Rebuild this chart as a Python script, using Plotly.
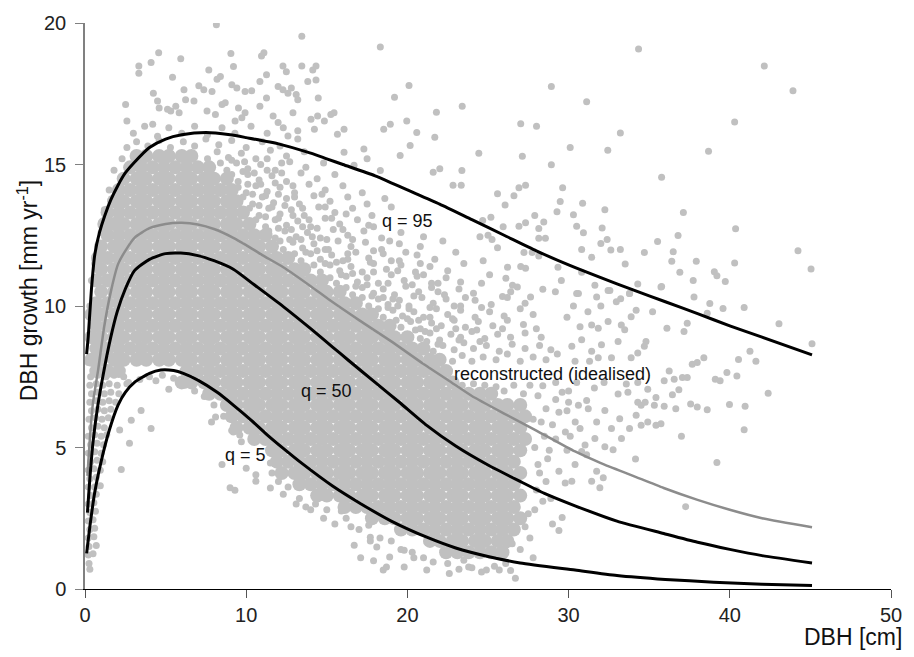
import plotly.graph_objects as go

# ---------------- curves (DBH [cm] -> growth [mm/yr]) ----------------
q95_dbh = [0.1, 0.2, 0.4, 0.61, 0.9, 1.23, 1.6, 2.05, 2.5, 3.07, 4, 5, 6, 7.5, 9, 10, 12, 14, 15, 16, 18, 20, 22, 24, 26, 28, 30, 32, 34, 36, 38, 40, 42, 45.1]
q95_val = [8.3, 8.9, 10.6, 11.83, 12.6, 13.2, 13.75, 14.27, 14.7, 15.08, 15.6, 15.9, 16.05, 16.13, 16.05, 15.95, 15.73, 15.4, 15.2, 15.0, 14.6, 14.1, 13.6, 13.05, 12.5, 11.95, 11.45, 11.0, 10.57, 10.15, 9.73, 9.3, 8.9, 8.27]

rec_dbh = [0.15, 0.3, 0.5, 0.82, 1.2, 1.6, 2.05, 2.5, 3.07, 4, 5, 6, 7, 8, 9.2, 10, 11, 12.3, 14, 15.2, 17, 19, 21, 22.6, 24, 26, 28, 30.4, 32, 34, 35.9, 38, 40, 42, 45.1]
rec_val = [4.0, 5.3, 6.6, 7.76, 9.3, 10.5, 11.48, 11.95, 12.41, 12.75, 12.9, 12.94, 12.88, 12.72, 12.41, 12.15, 11.8, 11.37, 10.7, 10.2, 9.5, 8.75, 7.95, 7.35, 6.82, 6.2, 5.6, 4.86, 4.45, 4.0, 3.57, 3.15, 2.8, 2.5, 2.18]

q50_dbh = [0.15, 0.3, 0.5, 0.8, 1.23, 1.6, 2.0, 2.5, 3.07, 4, 5, 5.94, 7, 8, 9.2, 10.5, 12.3, 14, 15.36, 16.3, 18, 19.5, 21.2, 23, 25, 27, 28.5, 30.4, 33, 35.9, 38, 40, 42, 45.1]
q50_val = [2.7, 3.9, 5.2, 6.5, 7.88, 8.9, 9.8, 10.6, 11.25, 11.65, 11.85, 11.87, 11.78, 11.6, 11.3, 10.75, 9.98, 9.2, 8.55, 8.1, 7.3, 6.6, 5.78, 5.05, 4.38, 3.8, 3.38, 2.94, 2.4, 1.96, 1.65, 1.4, 1.18, 0.92]

q5_dbh = [0.1, 0.3, 0.6, 1.0, 1.5, 2.05, 2.5, 3.07, 4, 4.7, 5.5, 6.1, 7, 8.2, 9.2, 10.3, 11.3, 12.3, 13.5, 15.36, 17, 19, 21.2, 23, 25, 27, 30.4, 33, 36, 39, 42, 45.1]
q5_val = [1.26, 2.2, 3.4, 4.5, 5.6, 6.5, 6.95, 7.3, 7.62, 7.74, 7.72, 7.62, 7.38, 6.95, 6.5, 5.97, 5.45, 4.97, 4.42, 3.64, 3.05, 2.4, 1.83, 1.45, 1.15, 0.92, 0.67, 0.48, 0.34, 0.24, 0.17, 0.12]

# ---------------- observations (read off the picture) ----------------
# dense core: one row per growth level, DBH values listed along it
core_growth = [1.3, 1.7, 2.1, 2.5, 2.9, 3.3, 3.7, 4.1, 4.5, 4.9, 5.3, 5.7, 6.1, 6.5, 6.9, 7.3, 7.7,
               8.1, 8.5, 8.9, 9.3, 9.7, 10.1, 10.5, 10.9, 11.3, 11.7, 12.1, 12.5, 12.9, 13.3, 13.7,
               14.1, 14.5, 14.9, 15.3]
core_dbh = [
    "22.4 23.1 23.8 24.5 25.2 25.9",
    "21.4 22.0 22.8 23.4 24.2 24.8 25.6 26.2",
    "19.6 20.3 21.0 21.7 22.4 23.1 23.8 24.5 25.2 25.9 26.6",
    "17.8 18.6 19.2 20.0 20.6 21.4 22.0 22.8 23.4 24.2 24.8 25.6 26.2 27.0",
    "16.1 16.8 17.5 18.2 18.9 19.6 20.3 21.0 21.7 22.4 23.1 23.8 24.5 25.2 25.9 26.6",
    "14.4 15.0 15.8 16.4 17.2 17.8 18.6 19.2 20.0 20.6 21.4 22.0 22.8 23.4 24.2 24.8 25.6 26.2 27.0",
    "13.3 14.0 14.7 15.4 16.1 16.8 17.5 18.2 18.9 19.6 20.3 21.0 21.7 22.4 23.1 23.8 24.5 25.2 25.9 26.6",
    "12.2 13.0 13.6 14.4 15.0 15.8 16.4 17.2 17.8 18.6 19.2 20.0 20.6 21.4 22.0 22.8 23.4 24.2 24.8 25.6 26.2 27.0",
    "11.9 12.6 13.3 14.0 14.7 15.4 16.1 16.8 17.5 18.2 18.9 19.6 20.3 21.0 21.7 22.4 23.1 23.8 24.5 25.2 25.9 26.6",
    "11.6 12.2 13.0 13.6 14.4 15.0 15.8 16.4 17.2 17.8 18.6 19.2 20.0 20.6 21.4 22.0 22.8 23.4 24.2 24.8 25.6 26.2 27.0",
    "10.5 11.2 11.9 12.6 13.3 14.0 14.7 15.4 16.1 16.8 17.5 18.2 18.9 19.6 20.3 21.0 21.7 22.4 23.1 23.8 24.5 25.2 25.9 26.6 27.3",
    "9.4 10.2 10.8 11.6 12.2 13.0 13.6 14.4 15.0 15.8 16.4 17.2 17.8 18.6 19.2 20.0 20.6 21.4 22.0 22.8 23.4 24.2 24.8 25.6 26.2 27.0",
    "9.1 9.8 10.5 11.2 11.9 12.6 13.3 14.0 14.7 15.4 16.1 16.8 17.5 18.2 18.9 19.6 20.3 21.0 21.7 22.4 23.1 23.8 24.5 25.2 25.9 26.6 27.3",
    "8.8 9.4 10.2 10.8 11.6 12.2 13.0 13.6 14.4 15.0 15.8 16.4 17.2 17.8 18.6 19.2 20.0 20.6 21.4 22.0 22.8 23.4 24.2 24.8 25.6 26.2 27.0",
    "7.7 8.4 9.1 9.8 10.5 11.2 11.9 12.6 13.3 14.0 14.7 15.4 16.1 16.8 17.5 18.2 18.9 19.6 20.3 21.0 21.7 22.4 23.1 23.8 24.5 25.2",
    "6.0 6.6 7.4 8.0 8.8 9.4 10.2 10.8 11.6 12.2 13.0 13.6 14.4 15.0 15.8 16.4 17.2 17.8 18.6 19.2 20.0 20.6 21.4 22.0 22.8",
    "0.7 1.4 2.1 6.3 7.0 7.7 8.4 9.1 9.8 10.5 11.2 11.9 12.6 13.3 14.0 14.7 15.4 16.1 16.8 17.5 18.2 18.9 19.6 20.3 21.0 21.7 22.4",
    "0.4 1.0 1.8 2.4 3.2 3.8 4.6 5.2 6.0 6.6 7.4 8.0 8.8 9.4 10.2 10.8 11.6 12.2 13.0 13.6 14.4 15.0 15.8 16.4 17.2 17.8 18.6 19.2 20.0 20.6 21.4 22.0",
    "0.7 1.4 2.1 2.8 3.5 4.2 4.9 5.6 6.3 7.0 7.7 8.4 9.1 9.8 10.5 11.2 11.9 12.6 13.3 14.0 14.7 15.4 16.1 16.8 17.5 18.2 18.9 19.6 20.3 21.0",
    "0.4 1.0 1.8 2.4 3.2 3.8 4.6 5.2 6.0 6.6 7.4 8.0 8.8 9.4 10.2 10.8 11.6 12.2 13.0 13.6 14.4 15.0 15.8 16.4 17.2 17.8 18.6 19.2 20.0",
    "0.7 1.4 2.1 2.8 3.5 4.2 4.9 5.6 6.3 7.0 7.7 8.4 9.1 9.8 10.5 11.2 11.9 12.6 13.3 14.0 14.7 15.4 16.1 16.8 17.5 18.2 18.9",
    "0.4 1.0 1.8 2.4 3.2 3.8 4.6 5.2 6.0 6.6 7.4 8.0 8.8 9.4 10.2 10.8 11.6 12.2 13.0 13.6 14.4 15.0 15.8 16.4 17.2 17.8",
    "0.7 1.4 2.1 2.8 3.5 4.2 4.9 5.6 6.3 7.0 7.7 8.4 9.1 9.8 10.5 11.2 11.9 12.6 13.3 14.0 14.7 15.4 16.1 16.8",
    "1.0 1.8 2.4 3.2 3.8 4.6 5.2 6.0 6.6 7.4 8.0 8.8 9.4 10.2 10.8 11.6 12.2 13.0 13.6 14.4 15.0 15.8",
    "0.7 1.4 2.1 2.8 3.5 4.2 4.9 5.6 6.3 7.0 7.7 8.4 9.1 9.8 10.5 11.2 11.9 12.6 13.3 14.0 14.7",
    "1.0 1.8 2.4 3.2 3.8 4.6 5.2 6.0 6.6 7.4 8.0 8.8 9.4 10.2 10.8 11.6 12.2 13.0 13.6",
    "0.8 1.4 2.1 2.8 3.5 4.2 4.9 5.6 6.3 7.0 7.7 8.4 9.1 9.8 10.5 11.2 11.9 12.6",
    "1.0 1.8 2.4 3.2 3.8 4.6 5.2 6.0 6.6 7.4 8.0 8.8 9.4 10.2 10.8 11.6",
    "1.4 2.1 2.8 3.5 4.2 4.9 5.6 6.3 7.0 7.7 8.4 9.1 9.8 10.5 11.2",
    "1.2 1.8 2.4 3.2 3.8 4.6 5.2 6.0 6.6 7.4 8.0 8.8 9.4 10.2",
    "1.4 2.1 2.8 3.5 4.2 4.9 5.6 6.3 7.0 7.7 8.4 9.1 9.8",
    "1.8 2.4 3.2 3.8 4.6 5.2 6.0 6.6 7.4 8.0 8.8 9.4",
    "2.1 2.8 3.5 4.2 4.9 5.6 6.3 7.0 7.7 8.4 9.1",
    "2.4 3.2 3.8 4.6 5.2 6.0 6.6 7.4 8.0 8.8",
    "2.8 3.5 4.2 4.9 5.6 6.3 7.0 7.7",
    "3.2 3.8 4.6 5.2 6.0 6.6",
]

# (DBH growth) pairs
obs_left_edge = """
0.25 0.9 0.2 1.2 0.5 1.25 0.25 1.5 0.2 1.8 0.55 1.85 0.3 2.1 0.6 2.15 0.2 2.4 0.5 2.45
0.3 2.7 0.65 2.75 0.2 3.0 0.55 3.05 0.35 3.3 0.7 3.35 0.2 3.6 0.6 3.6 0.95 3.65 0.3 3.9
0.7 3.95 0.2 4.2 0.55 4.25 0.95 4.2 0.35 4.5 0.75 4.55 1.1 4.5 0.2 4.8 0.6 4.85 1.0 4.8
0.35 5.1 0.75 5.15 1.15 5.1 0.2 5.4 0.6 5.45 1.0 5.4 1.35 5.45 0.4 5.7 0.8 5.75 1.2 5.7
0.25 6.0 0.65 6.05 1.05 6.0 1.45 6.05 0.4 6.3 0.8 6.35 1.2 6.3 1.6 6.35 0.3 6.6 0.7 6.65
1.1 6.6 1.5 6.65 1.9 6.6 0.4 6.9 0.8 6.95 1.2 6.9 1.6 6.95 2.1 6.9 0.3 7.2 0.7 7.25
1.1 7.2 1.5 7.25 2.0 7.2 2.6 7.25 0.35 7.5 0.8 7.55 1.3 7.5 1.8 7.55 2.4 7.5 0.2 8.0
0.3 9.0 0.3 10.0 0.4 10.9 0.6 11.5 1.0 12.6 1.2 13.4 1.5 14.1 1.8 14.8 0.3 0.7 0.7 1.54
"""

obs_mid = """
26.0 7.0 26.6 7.2 27.2 6.9 27.6 7.2 23.4 7.2 24.1 7.25 24.8 7.2 25.5 7.15
22.8 8.05 23.4 8.25 24.0 8.05 24.7 8.2 25.5 8.1 26.2 8.3 27.0 8.05 27.8 8.2 28.6 8.1 29.3 8.3
21.6 8.4 22.2 8.6 22.9 8.45 23.5 8.7 24.1 8.5 24.9 8.6 25.7 8.4 26.5 8.65 27.3 8.5 28.2 8.6 28.9 8.45
20.8 8.85 21.4 9.05 22.0 8.8 22.7 9.0 23.3 8.9 24.0 9.1 24.8 8.85 25.6 9.0 26.4 8.9 27.3 9.05 28.3 8.9
19.6 9.25 20.2 9.45 20.8 9.2 21.5 9.4 22.1 9.3 22.9 9.5 23.6 9.25 24.4 9.45 25.3 9.3 26.2 9.5 27.2 9.35 28.0 9.2
18.5 9.6 19.1 9.85 19.7 9.65 20.4 9.8 21.0 9.6 21.8 9.9 22.5 9.7 23.3 9.85 24.2 9.6 25.1 9.8 26.0 9.65 27.0 9.9 27.8 9.7
17.6 10.0 18.2 10.25 18.8 10.05 19.5 10.2 20.1 10.0 20.9 10.3 21.6 10.1 22.4 10.25 23.3 10.0 24.2 10.2 25.2 10.05 26.2 10.3 27.3 10.1
16.6 10.4 17.2 10.65 17.9 10.45 18.5 10.6 19.2 10.4 19.9 10.7 20.7 10.5 21.5 10.65 22.3 10.4 23.2 10.6 24.1 10.45
15.6 10.8 16.2 11.05 16.9 10.85 17.5 11.0 18.2 10.8 19.0 11.1 19.8 10.9 20.6 11.05 21.5 10.8 22.4 11.0 23.3 10.85
14.6 11.2 15.2 11.45 15.8 11.25 16.5 11.4 17.2 11.2 17.9 11.5 18.7 11.3 19.6 11.45 20.5 11.2 21.4 11.4 22.5 11.25 23.5 11.5
13.4 11.6 14.0 11.85 14.6 11.65 15.3 11.8 16.0 11.6 16.8 11.9 17.6 11.7 18.5 11.85 19.5 11.6 20.6 11.8 21.7 11.65 23.0 11.9
12.3 12.0 12.9 12.25 13.5 12.05 14.2 12.2 14.9 12.0 15.7 12.3 16.5 12.1 17.4 12.25 18.4 12.0 19.5 12.2 20.8 12.1 22.2 12.3
11.8 12.4 12.4 12.65 13.1 12.45 13.8 12.6 14.6 12.4 15.4 12.7 16.3 12.5 17.3 12.65 18.4 12.4 19.6 12.6 21.0 12.45
11.2 12.8 11.8 13.05 12.5 12.85 13.2 13.0 14.0 12.8 14.9 13.1 15.8 12.9 16.9 13.05 17.9 12.8
10.8 13.2 11.4 13.45 12.1 13.25 12.8 13.4 13.6 13.2 14.5 13.5 15.5 13.3 16.6 13.45 17.8 13.2 19.0 13.5
10.4 13.6 11.0 13.85 11.7 13.65 12.5 13.8 13.3 13.6 14.2 13.9 15.2 13.7 16.3 13.85 17.5 13.6 18.6 13.8
10.0 14.0 10.6 14.25 11.3 14.05 12.1 14.2 13.0 14.0 13.9 14.3 14.9 14.1 16.0 14.25 17.2 14.0
9.5 14.4 10.1 14.65 10.8 14.45 11.6 14.6 12.5 14.4 13.4 14.7 14.4 14.5 15.5 14.65
8.8 14.8 9.4 15.05 10.1 14.85 10.9 15.0 11.8 14.8 12.7 15.1 13.7 14.9 14.8 15.05
2.3 15.2 7.6 15.2 8.2 15.45 8.9 15.25 9.7 15.4 10.6 15.2 11.5 15.5 12.5 15.3 13.6 15.45
2.6 15.6 3.2 15.8 3.9 15.65 4.6 15.85 5.3 15.6 6.1 15.8 6.8 15.65 7.5 15.9 8.3 15.7 9.1 15.85 10.0 15.6 11.0 15.8 12.1 15.65 13.2 15.9
3.0 16.1 3.7 16.35 4.5 16.0 5.2 16.3 6.0 16.1 6.8 16.35 7.6 16.05 8.5 16.3 9.3 16.1 10.3 16.35 11.3 16.1 12.3 16.3
"""

obs_mid_extra = """
21.2 8.75 21.9 8.65 23.2 8.8 24.5 8.75 20.5 9.15 21.1 9.1 21.8 9.2 23.0 9.2 24.3 9.15 25.9 9.2
19.3 9.5 20.0 9.55 20.7 9.5 21.4 9.6 22.8 9.55 18.2 9.9 18.8 9.95 19.4 10.0 20.1 9.9 21.4 9.95
22.9 10.0 24.6 9.95 17.2 10.3 17.8 10.35 18.5 10.3 19.1 10.25 20.4 10.35 21.9 10.5 23.6 10.3
16.2 10.65 16.8 10.7 17.5 10.75 18.8 10.8 20.3 10.75 21.9 10.8 15.2 11.0 15.9 11.1 16.6 11.15
17.9 11.2 19.4 11.25 21.0 11.1 14.2 11.45 14.9 11.5 15.6 11.55 16.3 11.65 17.7 11.55 19.0 11.6
20.8 11.5 13.0 11.85 13.7 11.9 14.4 11.95 15.1 12.0 16.3 11.85 17.9 11.95 19.9 11.9 12.1 12.3
12.7 12.35 13.4 12.35 14.1 12.45 15.0 12.35 16.6 12.35 18.9 12.3 11.4 12.65 12.0 12.75 12.8 12.7
13.5 12.8 14.4 12.75 16.0 12.7 17.6 12.85 10.6 13.05 11.2 13.15 12.0 13.1 12.9 13.2 13.9 13.05
15.3 13.1 16.2 13.25 10.2 13.45 10.8 13.55 11.6 13.5 12.4 13.55 13.5 13.45 14.9 13.5 9.8 13.85
10.4 13.95 11.2 13.9 12.0 13.95 13.0 13.85 14.7 13.95 9.5 14.2 10.1 14.3 10.9 14.3 11.8 14.35
12.9 14.25 9.1 14.65 9.8 14.75 10.5 14.7 11.3 14.8 12.2 14.7 8.4 15.05 9.1 15.15 9.9 15.1
11.3 15.2 12.2 15.05
"""

obs_low = """
28.1 4.4 28.7 4.6 27.5 2.66 29.0 2.3 29.6 2.53 26.5 1.6 27.3 2.2 25.7 0.67 23.8 0.78 19.8 0.78
18.7 0.78 17.9 1.0 17.1 1.1 17.7 1.7 16.5 2.2 16.7 1.55 18.5 0.67 20.4 1.1 21.2 0.67 22.6 0.55
23.5 1.02 24.9 0.67 26.1 0.9 26.7 0.38 27.8 1.1 29.4 2.07 28.4 3.1 28.6 3.8 29.4 4.16 29.2 5.3
29.8 5.55 29.0 5.8 29.4 6.25 28.6 6.37 30.0 6.6 29.2 6.7 28.1 6.83 29.6 6.95 28.4 7.18 29.2 7.3
15.9 2.76 17.7 1.83 18.1 1.48 18.9 1.13 19.8 1.37 9.0 3.58 9.3 3.49 14.3 3.0 13.1 3.0 12.3 3.35
11.5 3.57 10.6 3.81 10.6 4.04 10.0 4.27 8.5 4.4 8.1 6.08 7.85 5.9 9.2 5.55 9.6 5.44
3.48 6.31 2.87 5.96 4.1 5.67 2.76 5.15 2.25 4.22 4.4 7.36 5.2 7.06 2.15 5.62
14.0 2.8 14.8 2.5 15.5 2.3 16.2 2.5 17.0 2.1 17.6 2.25 18.3 1.8 19.0 1.7 19.6 1.4 20.3 1.3
21.0 1.1 21.6 0.95 22.5 0.9 23.2 0.7 24.0 0.75 24.6 0.6 25.4 0.8 26.4 0.65 27.0 1.4 27.6 1.8
12.6 3.6 13.3 3.2 11.6 4.1 12.0 3.8 9.7 5.2 9.1 5.6 8.6 6.1 8.0 6.5 7.4 6.8 6.8 7.0
6.2 7.2 5.5 7.45 4.8 7.55 4.0 7.5 3.4 7.4 2.7 7.3 13.7 2.9 15.0 2.8 11.5 4.45
27.9 5.0 28.5 5.4 27.8 6.0 28.3 5.9 28.8 4.9 28.0 3.5 28.9 3.2 27.9 2.8 28.2 4.1
"""

obs_top = """
8.15 19.94 13.45 19.53 18.32 19.15 4.57 18.95 4.1 18.6 3.34 18.48 3.34 18.22 5.94 18.74 9.05 18.92 11.1 18.95
10.95 18.83 7.68 18.34 9.21 18.46 12.28 18.48 12.49 18.28 13.45 18.48 14.33 18.48 14.13 18.34 11.26 18.17 10.85 17.93
8.4 18.11 8.19 18.01 5.43 18.08 9.11 17.82 9.42 17.7 7.06 17.78 7.37 17.64 7.88 17.58 6.14 17.64 10.34 17.61
9.93 17.58 11.98 17.76 12.28 17.64 12.59 17.52 12.8 17.7 13.82 17.93 14.33 17.99 4.24 17.52 11.26 17.35 10.85 17.06
13.1 17.47 13.2 17.29 14.47 17.35 19.2 17.38 20.1 17.79 23.4 17.06 21.8 16.85 2.52 17.12 2.6 16.54 4.5 17.24
4.6 17.0 5.12 16.95 6.24 17.29 6.76 17.24 5.63 17.06 5.32 16.89 5.84 16.83 7.57 16.89 8.09 16.77 4.2 16.42
8.7 17.18 8.5 17.12 9.52 17.0 9.93 16.83 9.73 16.65 9.31 16.54 11.67 16.71 11.98 16.48 12.9 16.83 14.02 16.6
14.43 16.71 14.85 16.54 15.25 16.77 15.45 16.83 13.2 16.19 12.59 16.01 14.23 16.25 16.07 16.25 15.66 16.07 18.53 16.25
18.94 16.42 19.96 16.54 20.58 16.13 21.7 15.96 23.38 14.79 22.83 14.27 23.34 14.27 22.01 14.85 21.6 14.73 19.55 15.32
20.17 15.67 17.3 15.55 17.5 15.2 16.69 14.97 16.07 15.43 18.32 14.79
"""

obs_right = """
34.34 19.08 42.14 18.48 43.92 17.61 28.93 17.76 31.12 17.22 27.03 16.44 28.01 16.35 33.21 16.11 40.3 16.5 24.43 15.4
27.13 15.29 30.1 15.6 32.43 15.5 38.68 15.47 28.93 14.99 35.77 14.55 25.59 13.97 26.61 13.9 26.06 13.57 26.92 14.18
27.33 14.27 29.63 14.18 29.48 13.69 29.28 13.33 30.87 13.63 32.25 13.4 37.12 13.3 27.9 13.2 28.46 12.97 30.3 13.22
25.18 13.14 24.67 13.02 26.92 12.82 27.33 12.94 25.94 12.8 28.15 12.74 28.56 12.39 28.15 12.39 30.5 12.82 30.92 12.59
32.08 12.76 32.0 12.21 32.39 12.35 36.79 12.49 40.36 12.73 35.52 12.28 44.23 11.95 45.04 11.31 25.25 12.35 25.59 12.06
27.23 11.89 27.74 11.89 28.15 11.77 30.81 12.0 31.43 11.72 32.62 11.98 33.21 12.0 33.51 11.48 34.7 11.89 36.49 11.92
36.4 11.58 36.9 11.19 37.92 11.58 39.04 11.21 39.2 11.07 39.72 10.87 40.3 11.52 37.73 10.9 37.78 10.32 35.77 10.69
34.29 10.78 33.78 10.44 33.23 10.26 32.45 10.55 31.63 10.73 30.5 10.44 30.81 11.19 29.34 11.37 29.55 10.9 29.18 10.5
28.4 10.59 26.21 11.37 27.03 11.4 27.33 11.33 26.11 10.98 26.52 10.73 26.82 10.67 27.64 10.32 26.41 10.5 25.9 10.34
24.5 12.45 25.0 12.5 24.7 11.6 25.1 11.1 24.6 10.8
45.1 8.67 43.05 9.37 40.89 9.95 39.58 9.91 38.76 10.09 38.6 9.74 35.73 10.67 37.36 9.39 37.16 9.1 36.1 9.21
41.25 8.4 41.62 8.05 40.54 8.11 39.82 7.65 40.44 7.53 39.1 7.41 39.4 7.36 38.39 8.17 37.98 8.0 37.67 7.94
42.38 6.92 40.95 6.46 39.98 6.52 38.6 6.33 37.98 6.43 37.57 6.54 40.89 5.63 39.2 4.47 37.0 5.4 37.26 2.91
34.15 4.59 36.84 7.04 36.44 6.86 35.93 7.36 36.55 7.41 37.06 7.47 37.36 7.47 36.65 6.37 35.93 6.46 35.32 6.49
34.75 6.6 34.5 6.49 34.29 6.6 33.68 6.95 33.07 6.89 34.29 7.3 33.58 7.24 34.91 7.06 35.42 6.77 34.19 6.14
34.5 5.79 34.91 5.9 35.42 5.79 35.73 5.84 33.17 6.02 32.66 5.67 33.28 5.32 33.78 5.67 32.25 6.31 31.22 6.37
30.61 6.49 31.12 6.66 31.74 5.9 32.25 5.03 32.76 4.92 30.41 5.9 30.71 5.67 31.02 5.09 30.81 4.86 31.63 5.32
31.12 4.74 31.74 4.16 31.43 3.81 32.15 3.93 31.94 3.58 30.2 3.81 29.79 3.75 30.61 10.44 31.74 10.32 32.56 10.55
32.96 10.15 33.78 10.44 34.19 9.85 35.21 9.8 33.88 9.62 30.71 9.27 31.43 9.33 31.84 9.21 32.45 9.45 33.27 9.33
33.48 9.16 34.8 8.75 34.7 8.58 34.29 8.34 33.88 8.17 33.07 8.75 32.04 8.63 31.43 8.4 30.81 8.81 30.2 8.58
32.66 8.17 31.84 8.17 36.24 7.7 29.9 6.3 30.1 5.4 29.9 4.9 30.4 4.4 30.0 7.0 30.5 7.3 31.6 7.1
32.2 7.3 31.3 8.05 30.4 8.05 29.9 9.6 30.3 10.0 31.2 9.8 32.0 10.0
"""


def pairs(text):
    v = [float(t) for t in text.split()]
    return v[0::2], v[1::2]


GREY_DOT = "#c0c0c0"
FONT = "Liberation Sans, Arial, sans-serif"

fig = go.Figure()

# dense core
cx, cy = [], []
for g, row in zip(core_growth, core_dbh):
    for d in row.split():
        cx.append(float(d))
        cy.append(g)
fig.add_trace(go.Scatter(x=cx, y=cy, mode="markers", hoverinfo="skip",
                         marker=dict(size=14, color=GREY_DOT, line=dict(width=0))))

for txt in (obs_left_edge, obs_mid, obs_mid_extra, obs_low, obs_top, obs_right):
    px, py = pairs(txt)
    fig.add_trace(go.Scatter(x=px, y=py, mode="markers", hoverinfo="skip",
                             marker=dict(size=7, color=GREY_DOT, line=dict(width=0))))

# curves
fig.add_trace(go.Scatter(x=rec_dbh, y=rec_val, mode="lines", hoverinfo="skip",
                         line=dict(color="#8c8c8c", width=2.5, shape="spline", smoothing=0.6)))
for xs, ys in ((q95_dbh, q95_val), (q50_dbh, q50_val), (q5_dbh, q5_val)):
    fig.add_trace(go.Scatter(x=xs, y=ys, mode="lines", hoverinfo="skip",
                             line=dict(color="black", width=3, shape="spline", smoothing=0.6)))

labels = [("q = 95", 19.99, 13.02), ("reconstructed (idealised)", 29.0, 7.6),
          ("q = 50", 15.0, 6.98), ("q = 5", 9.93, 4.72)]
for t, x, y in labels:
    fig.add_annotation(x=x, y=y, xref="x", yref="y", text=t, showarrow=False,
                       font=dict(family=FONT, size=18, color="#111"),
                       xanchor="center", yanchor="middle")

fig.add_annotation(x=1.016, y=-0.085, xref="paper", yref="paper", text="DBH [cm]",
                   showarrow=False, xanchor="right", yanchor="middle",
                   font=dict(family=FONT, size=23, color="#111"))
fig.add_annotation(x=-0.0713, y=10.54, xref="paper", yref="y",
                   text="DBH growth [mm yr<sup>-1</sup>]", textangle=-90,
                   showarrow=False, xanchor="center", yanchor="middle",
                   font=dict(family=FONT, size=23, color="#111"))

fig.update_layout(
    width=914, height=657,
    margin=dict(l=85, r=15, t=16, b=68),
    plot_bgcolor="white", paper_bgcolor="white",
    showlegend=False,
    font=dict(family=FONT, color="#222"),
)
fig.update_xaxes(range=[0, 50], tickvals=[0, 10, 20, 30, 40, 50], ticks="outside", ticklen=8,
                 tickcolor="#555", showline=True, linecolor="black", linewidth=1,
                 showgrid=False, zeroline=False, tickfont=dict(size=20, family=FONT, color="#222"))
fig.update_yaxes(range=[0, 20], tickvals=[0, 5, 10, 15, 20], ticks="outside", ticklen=8,
                 tickcolor="#808080", showline=True, linecolor="#808080", linewidth=1.5,
                 ticklabelstandoff=5,
                 showgrid=False, zeroline=False, tickfont=dict(size=20, family=FONT, color="#222"))

fig.write_html("out.html", config={"displayModeBar": False},
               post_script="document.body.style.margin='0';")
